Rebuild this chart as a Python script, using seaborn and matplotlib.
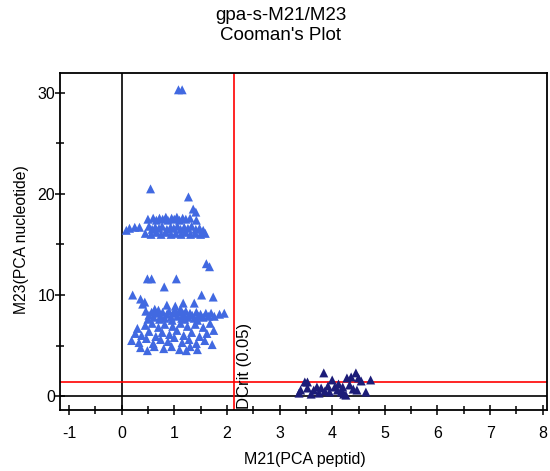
import numpy as np
import pandas as pd
import matplotlib
matplotlib.use("Agg")
import matplotlib.pyplot as plt
import seaborn as sns
from matplotlib.ticker import MultipleLocator

# ---- data ----
class1_x = [1.08, 1.15,
            0.55, 1.27, 1.36, 1.41,
            0.50, 0.60, 0.66, 0.72, 0.78, 0.84, 0.88, 0.95, 1.00, 1.05, 1.10, 1.16, 1.22, 1.30, 1.42,
            0.09, 0.15, 0.25, 0.34, 0.52, 0.58, 0.64, 0.71, 0.77, 0.86, 0.93, 0.99, 1.06, 1.12, 1.19, 1.26, 1.33, 1.41, 1.48, 1.55,
            0.45, 0.56, 0.66, 0.75, 0.84, 0.94, 1.03, 1.13, 1.22, 1.31, 1.40, 1.50, 1.59,
            1.61, 1.67, 0.49, 0.57, 0.81, 1.04, 0.21, 0.36, 0.44, 1.17, 1.38, 1.52, 1.74, 0.40, 0.86, 1.02,
            0.46, 0.52, 0.57, 0.61, 0.66, 0.70, 0.74, 0.78, 0.82, 0.86, 0.90, 0.94, 0.98, 1.02, 1.06, 1.10,
            1.14, 1.18, 1.22, 1.26, 1.30, 1.34, 1.38, 1.42, 1.46, 1.50, 1.55, 1.60, 1.65, 1.70, 1.76, 1.86,
            1.95, 0.50, 0.72, 0.96, 1.20, 1.44, 0.63, 1.12,
            0.30, 0.45, 0.58, 0.70, 0.82, 0.97, 1.12, 1.25, 1.40, 1.55, 1.68,
            0.26, 0.38, 0.52, 0.65, 0.77, 0.91, 1.05, 1.18, 1.33, 1.48, 1.62, 1.75,
            0.19, 0.33, 0.47, 0.60, 0.74, 0.88, 1.00, 1.15, 1.28, 1.42, 1.58, 1.72,
            0.36, 0.49, 0.62, 0.80, 0.95, 1.10, 1.23, 1.44, 1.30]
class1_y = [30.3, 30.3,
            20.5, 19.7, 18.5, 18.2,
            17.5, 17.6, 17.4, 17.6, 17.5, 17.7, 17.4, 17.6, 17.5, 17.7, 17.4, 17.6, 17.5, 17.6, 17.4,
            16.4, 16.6, 16.7, 16.7, 16.8, 16.5, 16.7, 16.6, 16.8, 16.5, 16.7, 16.6, 16.8, 16.5, 16.7, 16.6, 16.8, 16.5, 16.6, 16.4,
            16.1, 16.0, 16.2, 16.0, 16.2, 16.0, 16.1, 16.0, 16.2, 16.0, 16.1, 16.0, 16.1,
            13.1, 12.8, 11.6, 11.6, 10.8, 11.6, 10.0, 9.6, 9.3, 9.2, 9.2, 10.0, 9.8, 9.1, 9.0, 8.9,
            8.4, 8.0, 8.3, 7.8, 8.2, 8.5, 7.9, 8.3, 7.7, 8.1, 8.4, 7.8, 8.2, 8.5, 7.9, 8.3,
            7.7, 8.1, 8.4, 7.8, 8.2, 8.0, 7.7, 8.3, 7.9, 8.1, 7.8, 8.2, 7.9, 8.2, 7.9, 8.1,
            8.2, 7.6, 7.6, 7.5, 7.6, 7.5, 8.6, 8.6,
            6.7, 7.0, 7.2, 6.8, 7.1, 6.9, 7.2, 6.9, 7.1, 6.8, 7.2,
            6.2, 6.0, 6.4, 5.9, 6.3, 6.1, 6.5, 6.0, 6.3, 5.9, 6.2, 6.5,
            5.5, 5.3, 5.7, 5.2, 5.6, 5.4, 5.8, 5.3, 5.6, 5.2, 5.5, 5.1,
            4.8, 4.5, 4.9, 4.7, 4.9, 4.6, 4.5, 4.6, 4.9]

class2_x = [3.40, 3.37, 3.48, 3.53, 3.53, 3.60, 3.65, 3.71, 3.79, 3.75, 3.84, 3.86, 3.92, 4.00, 4.05, 4.10,
            4.12, 4.17, 4.20, 4.26, 4.28, 4.33, 4.36, 4.40, 4.45, 4.50, 4.47, 4.55, 4.64, 4.73, 4.22, 3.95]
class2_y = [0.6, 0.3, 1.4, 1.4, 0.8, 0.2, 0.6, 0.9, 0.8, 0.3, 2.3, 0.5, 1.0, 1.6, 0.9, 0.6,
            1.2, 0.4, 0.9, 0.1, 1.8, 1.1, 1.9, 0.7, 2.3, 1.8, 0.6, 1.5, 0.4, 1.6, 0.2, 0.4]

dcrit_x = 2.13
dcrit_y = 1.37

title_lines = ["gpa-s-M21/M23", "Cooman's Plot"]
x_label = "M21(PCA peptid)"
y_label = "M23(PCA nucleotide)"
dcrit_label = "DCrit (0.05)"

df = pd.DataFrame({
    "x": class1_x + class2_x,
    "y": class1_y + class2_y,
    "cls": ["c1"] * len(class1_x) + ["c2"] * len(class2_x),
})

sns.set_theme(style="white")
plt.rcParams['font.family'] = ['Liberation Sans', 'DejaVu Sans']
plt.rcParams['axes.unicode_minus'] = False

fig = plt.figure(figsize=(5.5, 4.71), dpi=100)
ax = fig.add_axes([60 / 550, 1 - 410 / 471, 487 / 550, 337 / 471])

ax.axvline(0, color="black", lw=1.2, zorder=1)
ax.axhline(0, color="black", lw=1.2, zorder=1)
ax.axvline(dcrit_x, color="red", lw=1.2, zorder=1)
ax.axhline(dcrit_y, color="red", lw=1.2, zorder=1)

sns.scatterplot(data=df, x="x", y="y", hue="cls",
                palette={"c1": "#4169E1", "c2": "#1C1C78"},
                marker="^", s=42, linewidth=0, legend=False, ax=ax, zorder=3)

ax.set_xlim(-1.17, 8.08)
ax.set_ylim(-1.37, 31.96)
ax.xaxis.set_major_locator(MultipleLocator(1))
ax.xaxis.set_minor_locator(MultipleLocator(0.5))
ax.yaxis.set_major_locator(MultipleLocator(10))
ax.yaxis.set_minor_locator(MultipleLocator(5))
ax.tick_params(which="major", direction="inout", length=7, width=1.1, color="black",
               labelsize=11.5, labelcolor="black")
ax.tick_params(which="minor", direction="inout", length=6, width=1.1, color="black")
ax.tick_params(axis="x", which="major", pad=8)
ax.tick_params(axis="y", which="major", pad=0)
ax.tick_params(axis="x", which="both", bottom=True)
ax.tick_params(axis="y", which="both", left=True)
for sp in ax.spines.values():
    sp.set_color("black")
    sp.set_linewidth(1.3)

ax.set_xlabel(x_label, fontsize=11.5, color="black")
ax.set_ylabel(y_label, fontsize=11.3, color="black")
ax.xaxis.set_label_coords(0.503, -0.125)
ax.yaxis.set_label_coords(-0.064, 0.505)

ax.text(dcrit_x + 0.06, -1.25, dcrit_label, rotation=90, ha="left", va="bottom",
        fontsize=12, color="black", zorder=4)

fig.text(281 / 550, 1 - 16 / 471, title_lines[0], ha="center", va="center", fontsize=13.5, color="black")
fig.text(281 / 550, 1 - 36 / 471, title_lines[1], ha="center", va="center", fontsize=13.5, color="black")

fig.savefig("out.png", dpi=100)
